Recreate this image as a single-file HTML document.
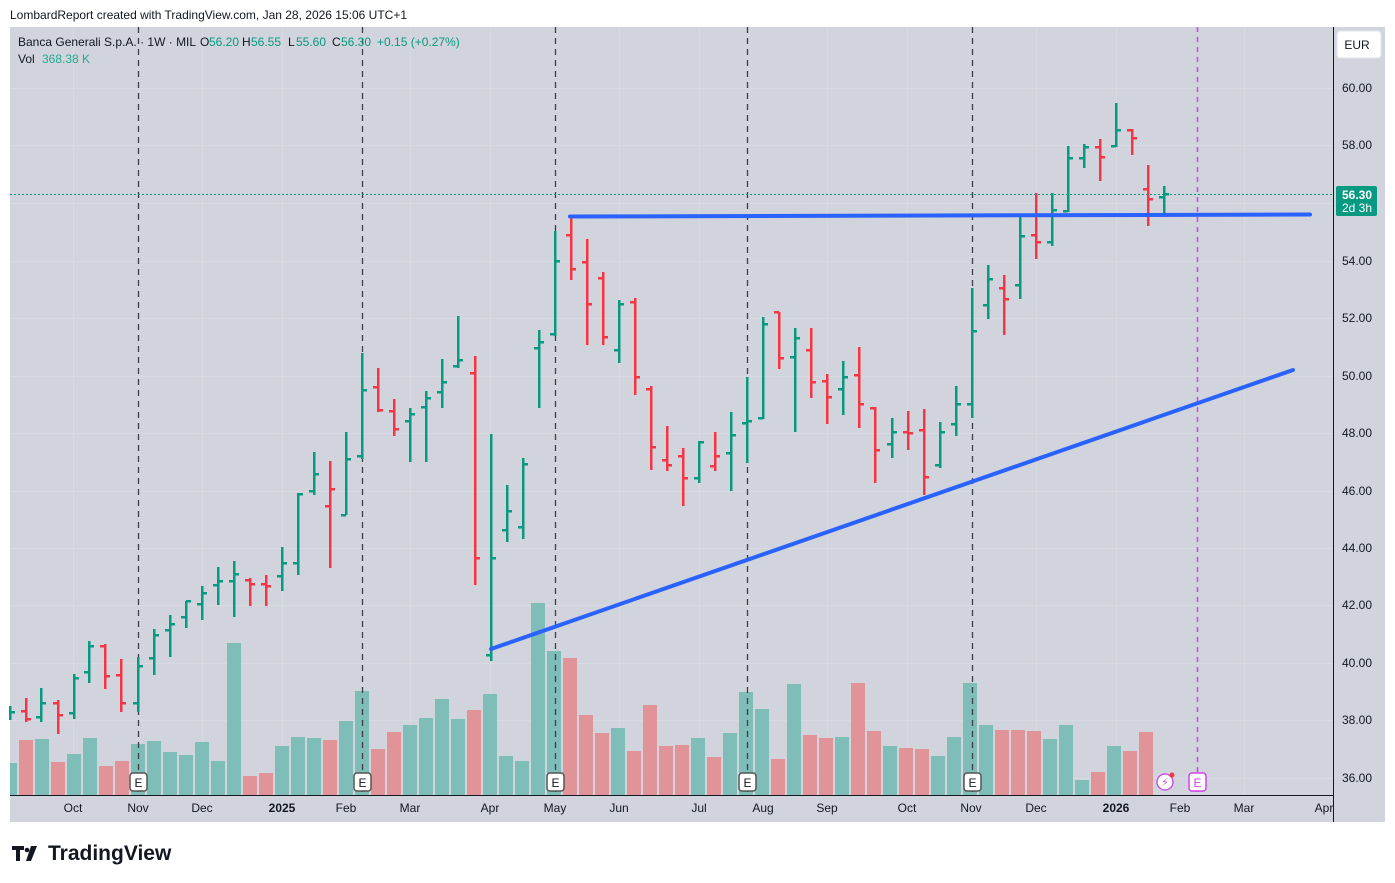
<!DOCTYPE html>
<html><head><meta charset="utf-8"><style>
html,body{margin:0;padding:0;background:#fff;width:1395px;height:883px;overflow:hidden;font-family:"Liberation Sans","DejaVu Sans",sans-serif}
</style></head><body>
<svg id="s" width="1395" height="883" xmlns="http://www.w3.org/2000/svg" font-family="Liberation Sans, DejaVu Sans, sans-serif">
<rect x="0" y="0" width="1395" height="883" fill="#fff"/>
<text x="10" y="19" font-size="12" fill="#131722">LombardReport created with TradingView.com, Jan 28, 2026 15:06 UTC+1</text>
<rect x="10" y="27" width="1375" height="795" fill="#d1d4dc"/>
<g id="grid" stroke="#d7dae1" stroke-width="1"></g>
<g id="vol"></g>
<g stroke="#3a3d45" stroke-width="1.3" stroke-dasharray="6,5">
<line x1="138.5" y1="27" x2="138.5" y2="795"/><line x1="362.5" y1="27" x2="362.5" y2="795"/><line x1="555.5" y1="27" x2="555.5" y2="795"/><line x1="747.5" y1="27" x2="747.5" y2="795"/><line x1="972.5" y1="27" x2="972.5" y2="795"/>
</g>
<line x1="1197.5" y1="27" x2="1197.5" y2="795" stroke="#d043e8" stroke-width="1.5" stroke-dasharray="5,5"/>
<line x1="10" y1="194.5" x2="1333" y2="194.5" stroke="#089981" stroke-width="1" stroke-dasharray="2,2"/>
<g id="bars"></g>
<line x1="570" y1="216.5" x2="1310" y2="214.5" stroke="#2962ff" stroke-width="4" stroke-linecap="round"/>
<line x1="491" y1="649" x2="1293" y2="370" stroke="#2962ff" stroke-width="4" stroke-linecap="round"/>
<g font-size="12" fill="#131722" text-anchor="middle">
<g stroke="#555" stroke-width="1.5" fill="#fff"><rect x="130" y="773" width="17" height="18" rx="3"/><rect x="354" y="773" width="17" height="18" rx="3"/><rect x="547" y="773" width="17" height="18" rx="3"/><rect x="739" y="773" width="17" height="18" rx="3"/><rect x="964" y="773" width="17" height="18" rx="3"/></g>
<text x="138.5" y="787">E</text><text x="362.5" y="787">E</text><text x="555.5" y="787">E</text><text x="747.5" y="787">E</text><text x="972.5" y="787">E</text>
</g>
<rect x="1189" y="773" width="17" height="18" rx="3" fill="#fff" stroke="#d043e8" stroke-width="1.5"/>
<text x="1197.5" y="787" font-size="12" fill="#d043e8" text-anchor="middle">E</text>
<circle cx="1165" cy="782" r="8" fill="#fff" stroke="#c558e0" stroke-width="1.5"/>
<text x="1165" y="786" font-size="11" fill="#c558e0" text-anchor="middle">⚡</text>
<circle cx="1172" cy="775" r="2.5" fill="#f23645"/>
<line x1="10" y1="795.5" x2="1333" y2="795.5" stroke="#131722" stroke-width="1"/>
<line x1="1333.5" y1="27" x2="1333.5" y2="822" stroke="#131722" stroke-width="1"/>
<g font-size="12" fill="#131722" text-anchor="middle">
<text x="73" y="812">Oct</text><text x="138" y="812">Nov</text><text x="202" y="812">Dec</text><text x="282" y="812" font-weight="bold">2025</text><text x="346" y="812">Feb</text><text x="410" y="812">Mar</text><text x="490" y="812">Apr</text><text x="555" y="812">May</text><text x="619" y="812">Jun</text><text x="699" y="812">Jul</text><text x="763" y="812">Aug</text><text x="827" y="812">Sep</text><text x="907" y="812">Oct</text><text x="971" y="812">Nov</text><text x="1036" y="812">Dec</text><text x="1116" y="812" font-weight="bold">2026</text><text x="1180" y="812">Feb</text><text x="1244" y="812">Mar</text><text x="1324" y="812">Apr</text>
</g>
<g font-size="12" fill="#131722" text-anchor="middle">
<text x="1357" y="92">60.00</text><text x="1357" y="149">58.00</text><text x="1357" y="265">54.00</text><text x="1357" y="322">52.00</text><text x="1357" y="380">50.00</text><text x="1357" y="437">48.00</text><text x="1357" y="495">46.00</text><text x="1357" y="552">44.00</text><text x="1357" y="609">42.00</text><text x="1357" y="667">40.00</text><text x="1357" y="724">38.00</text><text x="1357" y="782">36.00</text>
</g>
<rect x="1337" y="31" width="44" height="27" rx="3" fill="#fff" stroke="#e0e3eb"/>
<text x="1357" y="49" font-size="12" fill="#131722" text-anchor="middle">EUR</text>
<rect x="1336" y="186" width="41" height="30" rx="2" fill="#089981"/>
<text x="1357" y="199" font-size="12" fill="#fff" text-anchor="middle" font-weight="bold">56.30</text>
<text x="1357" y="212" font-size="12" fill="#fff" text-anchor="middle">2d 3h</text>
<g font-size="12" fill="#131722">
<text x="18" y="46">Banca Generali S.p.A. · 1W · MIL</text>
<text x="200" y="46">O</text><text x="209" y="46" fill="#089981">56.20</text>
<text x="242" y="46">H</text><text x="251" y="46" fill="#089981">56.55</text>
<text x="288" y="46">L</text><text x="296" y="46" fill="#089981">55.60</text>
<text x="332" y="46">C</text><text x="341" y="46" fill="#089981">56.30</text>
<text x="377" y="46" fill="#089981">+0.15 (+0.27%)</text>
<text x="18" y="63">Vol</text><text x="42" y="63" fill="#22ab94">368.38 K</text>
</g>
<g fill="#131722"><path d="M12 846h12v4h-4v11h-4v-11h-4z"/><circle cx="27" cy="850" r="2.3"/><path d="M31 846h6l-6 15h-5z"/></g>
<text x="48" y="860" font-size="21" font-weight="bold" fill="#131722">TradingView</text>
</svg>
<script>
var NS="http://www.w3.org/2000/svg";
function el(p,t,a){var e=document.createElementNS(NS,t);for(var k in a)e.setAttribute(k,a[k]);p.appendChild(e);return e;}
var G="#089981",R="#f23645";
var B=[[10,'g',706,720,712,712],[26,'r',698,722,711,719],[41,'g',688,722,717,703],[58,'r',700,734,703,715],[74,'g',674,719,713,678],[89,'g',641,683,672,646],[105,'r',644,689,646,676],[121,'r',659,712,675,703],[138,'g',657,712,703,666],[154,'g',629,675,658,635],[170,'g',615,657,630,624],[186,'g',601,628,617,601],[202,'g',586,620,604,593],[218,'g',567,605,585,581],[234,'g',561,617,581,574],[250,'r',578,606,580,584],[266,'r',575,606,584,586],[282,'g',547,591,576,563],[298,'g',493,575,563,494],[314,'g',452,495,491,474],[330,'r',461,568,506,489],[346,'g',432,515,515,459],[362,'g',353,459,456,390],[378,'r',368,412,387,410],[394,'r',399,436,411,429],[410,'g',408,462,421,414],[426,'g',391,462,407,398],[442,'g',359,408,392,382],[458,'g',316,368,366,360],[475,'r',356,585,373,558],[491,'g',434,661,655,558],[507,'g',485,542,530,511],[523,'g',458,539,527,464],[539,'g',330,408,348,342],[555,'g',231,336,334,261],[571,'r',216,280,235,269],[587,'r',239,345,262,304],[603,'r',272,345,278,337],[619,'g',300,363,350,304],[635,'r',298,395,302,377],[651,'r',386,470,389,447],[667,'r',426,471,460,465],[683,'r',448,506,456,478],[699,'g',441,483,478,442],[715,'r',432,471,466,456],[731,'g',412,491,453,435],[747,'g',377,463,423,421],[763,'g',317,419,418,324],[779,'r',312,369,312,358],[795,'g',328,432,357,338],[811,'r',328,398,350,382],[827,'r',374,424,381,397],[843,'g',361,415,389,377],[859,'r',347,428,375,404],[875,'r',407,483,408,450],[892,'g',418,458,444,432],[908,'r',411,450,432,433],[924,'r',409,495,430,477],[940,'g',422,468,465,432],[956,'g',386,436,424,404],[972,'g',288,418,404,331],[988,'g',265,319,305,279],[1004,'r',275,335,288,299],[1020,'g',216,299,285,236],[1036,'r',193,259,235,242],[1052,'g',193,246,242,210],[1068,'g',146,212,211,158],[1084,'g',144,168,158,147],[1100,'r',139,181,147,157],[1116,'g',103,147,146,130],[1132,'r',129,155,130,138],[1148,'r',165,226,189,199],[1164,'g',186,214,197,194]];
var V=[[10,'g',763],[26,'r',740],[42,'g',739],[58,'r',762],[74,'g',754],[90,'g',738],[106,'r',766],[122,'r',761],[138,'g',744],[154,'g',741],[170,'g',752],[186,'g',755],[202,'g',742],[218,'g',761],[234,'g',643],[250,'r',776],[266,'r',773],[282,'g',746],[298,'g',737],[314,'g',738],[330,'r',740],[346,'g',721],[362,'g',691],[378,'r',749],[394,'r',732],[410,'g',725],[426,'g',718],[442,'g',699],[458,'g',719],[474,'r',710],[490,'g',694],[506,'g',756],[522,'g',761],[538,'g',603],[554,'g',651],[570,'r',658],[586,'r',715],[602,'r',733],[618,'g',728],[634,'r',751],[650,'r',705],[666,'r',746],[682,'r',745],[698,'g',738],[714,'r',757],[730,'g',733],[746,'g',692],[762,'g',709],[778,'r',759],[794,'g',684],[810,'r',735],[826,'r',738],[842,'g',737],[858,'r',683],[874,'r',731],[890,'g',746],[906,'r',748],[922,'r',749],[938,'g',756],[954,'g',737],[970,'g',683],[986,'g',725],[1002,'r',730],[1018,'r',730],[1034,'r',731],[1050,'g',739],[1066,'g',725],[1082,'g',780],[1098,'r',772],[1114,'g',746],[1130,'r',751],[1146,'r',732]];
var grid=document.getElementById('grid');
[88,145,203,261,318,376,433,491,548,605,663,720,778].forEach(function(y){el(grid,'line',{x1:10,x2:1333,y1:y+.5,y2:y+.5});});
[73,202,282,410,490,619,699,827,907,1036,1116,1244].forEach(function(x){el(grid,'line',{x1:x+.5,x2:x+.5,y1:27,y2:795});});
var vg=document.getElementById('vol');
V.forEach(function(v){var x0=Math.max(10,v[0]-7);el(vg,'rect',{x:x0,y:v[2],width:v[0]+7-x0,height:795-v[2],fill:v[1]=='g'?'#7fbdb9':'#e09497'});});
var bg=document.getElementById('bars');
B.forEach(function(b){var c=b[1]=='g'?G:R,x=b[0];
el(bg,'rect',{x:x-1,y:b[2],width:2.5,height:b[3]-b[2],fill:c});
if(x>12)el(bg,'rect',{x:x-5,y:b[4]-1,width:5,height:2.5,fill:c});
el(bg,'rect',{x:x,y:b[5]-1,width:5,height:2.5,fill:c});});
</script>
</body></html>
